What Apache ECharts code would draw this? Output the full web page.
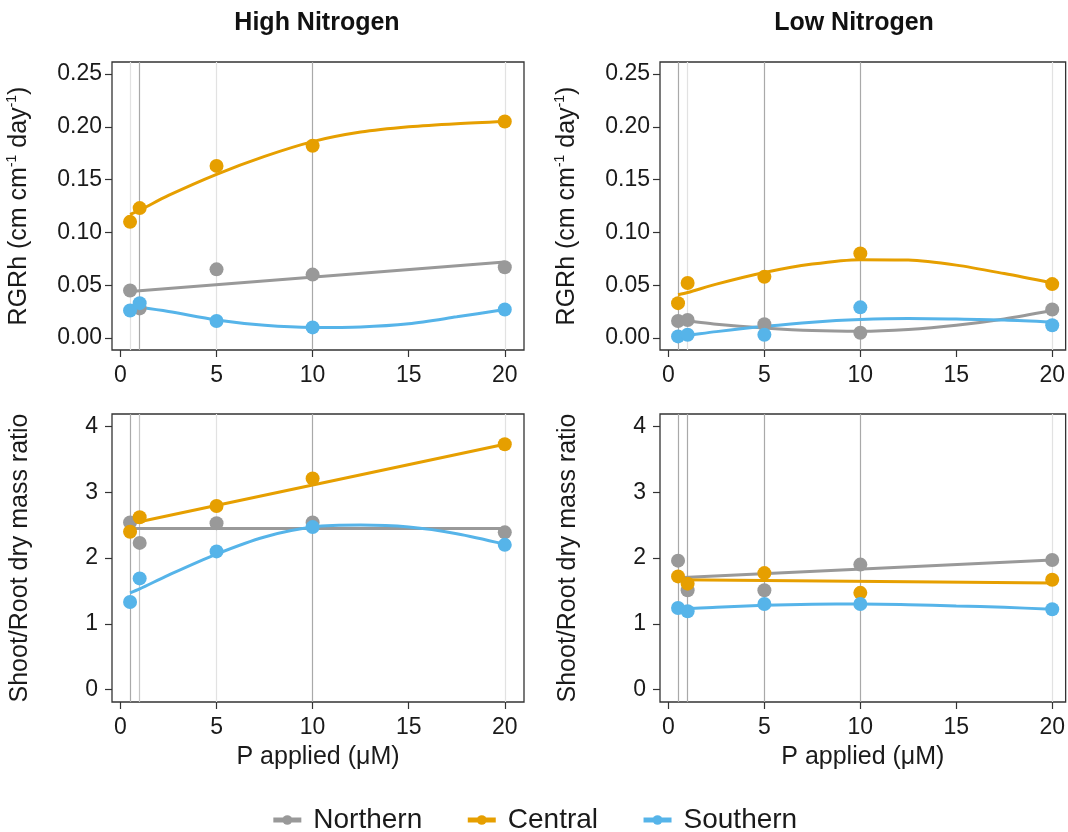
<!DOCTYPE html>
<html>
<head>
<meta charset="utf-8">
<script src="https://cdn.jsdelivr.net/npm/echarts@6/dist/echarts.min.js"></script>
<style>
  html, body { margin: 0; padding: 0; background: #fff; }
  #chart { width: 1068px; height: 832px; }
</style>
</head>
<body>
<div id="chart"></div>
<script>
// P applied (uM) levels, shared by all panels
const pLevels = [0.5, 1, 5, 10, 20];
const xTicks = [0, 5, 10, 15, 20];
const rgrTicks = [0, 0.05, 0.1, 0.15, 0.2, 0.25];
const ratioTicks = [0, 1, 2, 3, 4];

const curveX = [0.5, 1, 2.5, 5, 7.5, 10, 12.5, 15, 17.5, 20];
const lineX = [0.5, 20];

// High Nitrogen - RGRh
const hnRgrNorth = [0.045, 0.028, 0.065, 0.060, 0.067];
const hnRgrCentral = [0.110, 0.123, 0.163, 0.182, 0.205];
const hnRgrSouth = [0.026, 0.033, 0.016, 0.010, 0.027];
const hnRgrNorthFit = [0.044, 0.072];
const hnRgrCentralFit = [0.117, 0.121, 0.135, 0.155, 0.172, 0.186, 0.195, 0.200, 0.203, 0.205];
const hnRgrSouthFit = [0.030, 0.029, 0.025, 0.017, 0.012, 0.010, 0.0105, 0.0135, 0.020, 0.027];

// Low Nitrogen - RGRh
const lnRgrNorth = [0.016, 0.017, 0.013, 0.005, 0.027];
const lnRgrCentral = [0.033, 0.052, 0.058, 0.080, 0.051];
const lnRgrSouth = [0.0015, 0.003, 0.003, 0.029, 0.012];
const lnRgrNorthFit = [0.0165, 0.016, 0.013, 0.0095, 0.007, 0.0063, 0.008, 0.012, 0.018, 0.026];
const lnRgrCentralFit = [0.041, 0.043, 0.051, 0.062, 0.070, 0.0742, 0.0738, 0.069, 0.061, 0.052];
const lnRgrSouthFit = [0.0015, 0.0025, 0.006, 0.011, 0.015, 0.0175, 0.0185, 0.018, 0.017, 0.015];

// High Nitrogen - shoot/root ratio
const hnSrNorth = [2.54, 2.23, 2.53, 2.54, 2.39];
const hnSrCentral = [2.40, 2.62, 2.79, 3.21, 3.73];
const hnSrSouth = [1.33, 1.69, 2.10, 2.47, 2.20];
const hnSrNorthFit = [2.45, 2.45];
const hnSrCentralFit = [2.52, 3.73];
const hnSrSouthFit = [1.47, 1.53, 1.74, 2.06, 2.32, 2.47, 2.50, 2.47, 2.37, 2.21];

// Low Nitrogen - shoot/root ratio
const lnSrNorth = [1.96, 1.51, 1.51, 1.90, 1.97];
const lnSrCentral = [1.72, 1.61, 1.77, 1.47, 1.67];
const lnSrSouth = [1.24, 1.19, 1.30, 1.30, 1.22];
const lnSrNorthFit = [1.70, 1.97];
const lnSrCentralFit = [1.67, 1.62];
const lnSrSouthFit = [1.23, 1.23, 1.25, 1.28, 1.295, 1.30, 1.29, 1.27, 1.25, 1.22];

const popNames = ['Northern', 'Central', 'Southern'];
const popColors = ['#999999', '#E69F00', '#56B4E9'];

const DARK = '#a9a9a9', MID = '#c4c4c4', LIGHT = '#e2e2e2';
const FONT = 'Liberation Sans, Arial, Helvetica, sans-serif';

const panels = [
  { pts: [hnRgrNorth, hnRgrCentral, hnRgrSouth],
    fits: [[lineX, hnRgrNorthFit], [curveX, hnRgrCentralFit], [curveX, hnRgrSouthFit]],
    vlines: [LIGHT, DARK, LIGHT, DARK, LIGHT] },
  { pts: [lnRgrNorth, lnRgrCentral, lnRgrSouth],
    fits: [[curveX, lnRgrNorthFit], [curveX, lnRgrCentralFit], [curveX, lnRgrSouthFit]],
    vlines: [DARK, LIGHT, DARK, DARK, LIGHT] },
  { pts: [hnSrNorth, hnSrCentral, hnSrSouth],
    fits: [[lineX, hnSrNorthFit], [lineX, hnSrCentralFit], [curveX, hnSrSouthFit]],
    vlines: [DARK, MID, LIGHT, DARK, LIGHT] },
  { pts: [lnSrNorth, lnSrCentral, lnSrSouth],
    fits: [[lineX, lnSrNorthFit], [lineX, lnSrCentralFit], [curveX, lnSrSouthFit]],
    vlines: [DARK, DARK, DARK, DARK, LIGHT] }
];

const chart = echarts.init(document.getElementById('chart'));

const grids = [
  { left: 112, top: 62, width: 412, height: 288 },
  { left: 660, top: 62, width: 406, height: 288 },
  { left: 112, top: 414, width: 412, height: 288 },
  { left: 660, top: 414, width: 406, height: 288 }
].map(g => Object.assign(g, { show: true, borderColor: '#333', borderWidth: 1.3 }));

const xAxes = grids.map((g, i) => ({
  type: 'value',
  gridIndex: i,
  min: -0.44,
  max: i % 2 === 0 ? 21.0 : 20.7,
  axisLine: { show: false, onZero: false },
  axisTick: { show: true, length: 7, lineStyle: { color: '#333', width: 1.2 }, customValues: xTicks },
  axisLabel: { customValues: xTicks, fontSize: 23, color: '#1a1a1a', fontFamily: FONT, margin: 14 },
  splitLine: { show: false },
  name: i >= 2 ? 'P applied (μM)' : '',
  nameLocation: 'middle',
  nameGap: 43,
  nameTextStyle: { fontSize: 25, color: '#1a1a1a', fontFamily: FONT }
}));

const rgrName = '{t|RGRh (cm cm}{s|-1}{t| day}{s|-1}{t|)}';
const yAxes = grids.map((g, i) => {
  const top = i < 2;
  return {
    type: 'value',
    gridIndex: i,
    min: top ? -0.0114 : -0.19,
    max: top ? 0.2614 : 4.19,
    axisLine: { show: false, onZero: false },
    axisTick: { show: true, length: 7, lineStyle: { color: '#333', width: 1.2 }, customValues: top ? rgrTicks : ratioTicks },
    axisLabel: {
      customValues: top ? rgrTicks : ratioTicks,
      fontSize: 23, color: '#1a1a1a', fontFamily: FONT,
      margin: top ? 10 : 14,
      formatter: v => top ? v.toFixed(2) : String(v)
    },
    splitLine: { show: false },
    name: top ? rgrName : 'Shoot/Root dry mass ratio',
    nameLocation: 'middle',
    nameRotate: 90,
    nameGap: 79,
    nameTextStyle: {
      fontSize: 25, color: '#1a1a1a', fontFamily: FONT,
      rich: {
        t: { fontSize: 25, color: '#1a1a1a', fontFamily: FONT, lineHeight: 28 },
        s: { fontSize: 14, color: '#1a1a1a', fontFamily: FONT, lineHeight: 28, verticalAlign: 'top' }
      }
    }
  };
});

const series = [];
panels.forEach((p, gi) => {
  popNames.forEach((name, k) => {
    const fx = p.fits[k][0], fy = p.fits[k][1];
    const fit = {
      name: name,
      type: 'line',
      xAxisIndex: gi,
      yAxisIndex: gi,
      data: fx.map((x, j) => [x, fy[j]]),
      smooth: fx.length > 2 ? 0.3 : false,
      symbol: 'circle',
      symbolSize: 9,
      showSymbol: false,
      lineStyle: { color: popColors[k], width: 3 },
      itemStyle: { color: popColors[k] },
      silent: true,
      z: 3
    };
    if (k === 0) {
      fit.markLine = {
        silent: true,
        symbol: 'none',
        z: 1,
        label: { show: false },
        data: pLevels.map((x, j) => ({ xAxis: x, lineStyle: { color: p.vlines[j], width: 1.2, type: 'solid' } }))
      };
    }
    series.push(fit);
    series.push({
      name: name,
      type: 'scatter',
      xAxisIndex: gi,
      yAxisIndex: gi,
      data: pLevels.map((x, j) => [x, p.pts[k][j]]),
      symbol: 'circle',
      symbolSize: 14,
      itemStyle: { color: popColors[k], opacity: 1 },
      silent: true,
      z: 3
    });
  });
});

chart.setOption({
  animation: false,
  backgroundColor: '#fff',
  title: [
    { text: 'High Nitrogen', left: 312, top: 6, textAlign: 'center',
      textStyle: { fontSize: 25, fontWeight: 'bold', color: '#111', fontFamily: FONT } },
    { text: 'Low Nitrogen', left: 849, top: 6, textAlign: 'center',
      textStyle: { fontSize: 25, fontWeight: 'bold', color: '#111', fontFamily: FONT } }
  ],
  legend: {
    data: popNames,
    left: 'center',
    top: 801,
    itemWidth: 28,
    itemHeight: 12,
    itemGap: 43,
    lineStyle: { width: 5 },
    textStyle: { fontSize: 28, color: '#1a1a1a', fontFamily: FONT, padding: [0, 0, 0, 7] }
  },
  grid: grids,
  xAxis: xAxes,
  yAxis: yAxes,
  series: series
});
</script>
</body>
</html>
